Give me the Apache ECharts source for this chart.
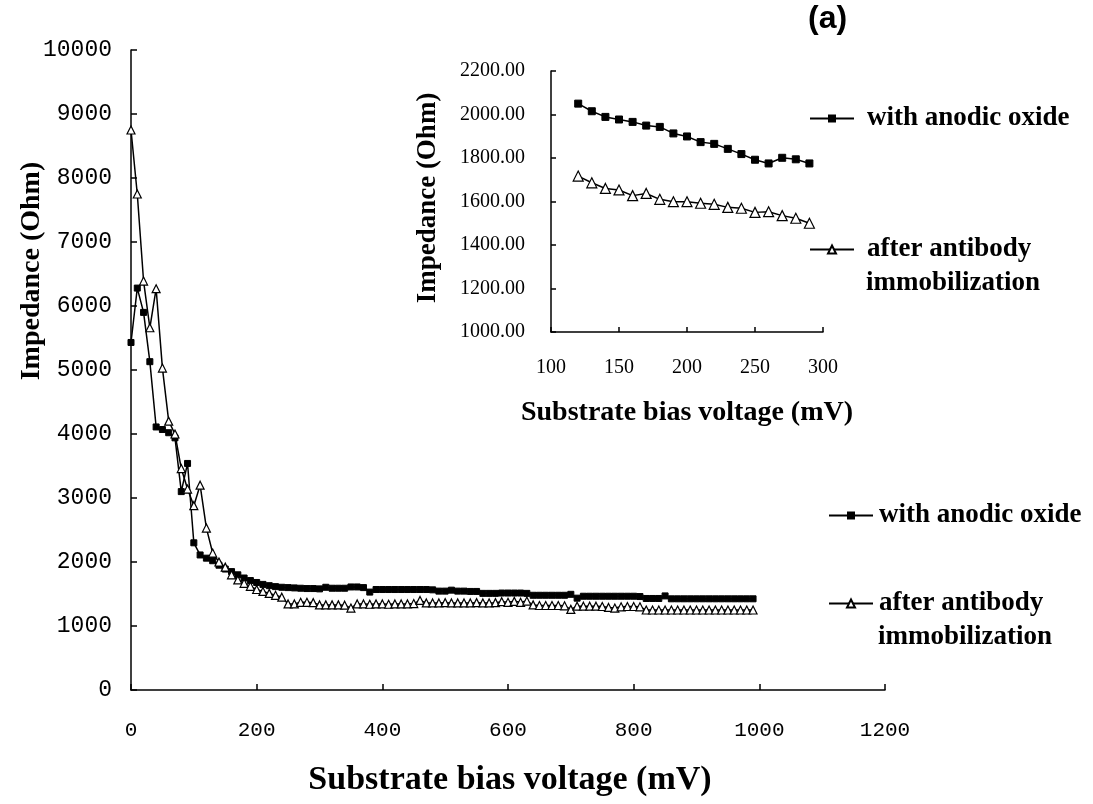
<!DOCTYPE html>
<html>
<head>
<meta charset="utf-8">
<script src="https://cdn.jsdelivr.net/npm/echarts@6/dist/echarts.min.js"></script>
<style>
  html, body { margin: 0; padding: 0; background: #fff; }
  #chart { width: 1093px; height: 804px; }
</style>
</head>
<body>
<div id="chart"></div>
<script>
// main plot: substrate bias voltage (mV)
const mainVoltage = [
  0, 10, 20, 30, 40, 50, 60, 70, 80, 90,
  100, 110, 120, 130, 140, 150, 160, 170, 180, 190,
  200, 210, 220, 230, 240, 250, 260, 270, 280, 290,
  300, 310, 320, 330, 340, 350, 360, 370, 380, 390,
  400, 410, 420, 430, 440, 450, 460, 470, 480, 490,
  500, 510, 520, 530, 540, 550, 560, 570, 580, 590,
  600, 610, 620, 630, 640, 650, 660, 670, 680, 690,
  700, 710, 720, 730, 740, 750, 760, 770, 780, 790,
  800, 810, 820, 830, 840, 850, 860, 870, 880, 890,
  900, 910, 920, 930, 940, 950, 960, 970, 980, 990
];
const mainAnodic = [
  5430, 6280, 5900, 5130, 4110, 4070, 4020, 3940, 3100, 3540,
  2300, 2110, 2060, 2020, 1950, 1890, 1850, 1800, 1750, 1710,
  1680, 1650, 1630, 1615, 1605, 1600, 1595, 1590, 1585, 1585,
  1580, 1605, 1590, 1590, 1590, 1610, 1610, 1600, 1530, 1570,
  1570, 1570, 1570, 1570, 1570, 1570, 1570, 1570, 1565, 1545,
  1545, 1560, 1545, 1545, 1540, 1540, 1510, 1510, 1510, 1515,
  1515, 1515, 1515, 1510, 1480, 1480, 1480, 1480, 1480, 1480,
  1495, 1435, 1465, 1465, 1465, 1465, 1465, 1465, 1465, 1465,
  1465, 1460, 1430, 1430, 1430, 1470, 1425, 1425, 1425, 1425,
  1425, 1425, 1425, 1425, 1425, 1425, 1425, 1425, 1425, 1425
];
const mainAntibody = [
  8750, 7750, 6390, 5660, 6270, 5030, 4200, 4000, 3460, 3140,
  2880, 3200, 2530, 2140, 2000, 1920, 1800, 1720, 1667, 1620,
  1570, 1540, 1510, 1480, 1450, 1345, 1345, 1370, 1370, 1365,
  1330, 1330, 1330, 1330, 1325, 1280, 1345, 1345, 1340, 1345,
  1345, 1340, 1345, 1345, 1345, 1350, 1400, 1360, 1360, 1360,
  1365, 1360, 1360, 1360, 1360, 1365, 1360, 1360, 1365, 1380,
  1370, 1385, 1370, 1390, 1330, 1320, 1320, 1320, 1320, 1315,
  1260, 1310, 1310, 1310, 1310, 1305, 1290, 1280, 1300, 1305,
  1305, 1300, 1250, 1250, 1250, 1250, 1250, 1250, 1250, 1250,
  1250, 1250, 1250, 1250, 1250, 1250, 1250, 1250, 1250, 1250
];

// inset: 120 - 290 mV
const insetVoltage = [120, 130, 140, 150, 160, 170, 180, 190, 200, 210, 220, 230, 240, 250, 260, 270, 280, 290];
const insetAnodic = [2050, 2015, 1989, 1977, 1966, 1949, 1943, 1913, 1899, 1873, 1865, 1842, 1818, 1792, 1775, 1801, 1794, 1775];
const insetAntibody = [1717, 1686, 1660, 1653, 1627, 1637, 1610, 1599, 1599, 1592, 1587, 1573, 1569, 1550, 1553, 1535, 1523, 1500];

const nameA = 'with anodic oxide';
const nameB = 'after antibody';

const pairs = (xs, ys) => xs.map((x, i) => [x, ys[i]]);

const chart = echarts.init(document.getElementById('chart'));

const serifBold = {
  fontFamily: 'Liberation Serif',
  fontWeight: 'bold',
  color: '#000'
};

const axisBase = {
  axisLine: { lineStyle: { color: '#000', width: 1.5 } },
  axisTick: { inside: true, length: 6, lineStyle: { color: '#000', width: 1.5 } },
  splitLine: { show: false }
};

const legendItem = (left, top, name, pad) => ({
  orient: 'vertical',
  left: left,
  top: top,
  padding: 0,
  data: [name],
  itemWidth: 44,
  itemHeight: 10,
  selectedMode: false,
  textStyle: Object.assign({ fontSize: 27, padding: [0, 0, 0, pad] }, serifBold)
});

let option = {
  backgroundColor: '#fff',
  animation: false,
  grid: [
    { left: 131, top: 50, width: 754, height: 640, containLabel: false, outerBoundsMode: 'none' },
    { left: 551, top: 71, width: 272, height: 261, containLabel: false, outerBoundsMode: 'none' }
  ],
  xAxis: [
    Object.assign({}, axisBase, {
      type: 'value', gridIndex: 0, min: 0, max: 1200, interval: 200,
      axisLabel: { margin: 30, fontSize: 21, fontFamily: 'Liberation Mono', color: '#000', formatter: (v) => String(v) }
    }),
    Object.assign({}, axisBase, {
      type: 'value', gridIndex: 1, min: 100, max: 300, interval: 50,
      axisTick: { inside: true, length: 5, lineStyle: { color: '#000', width: 1.5 } },
      axisLabel: { margin: 26, fontSize: 20, fontFamily: 'Liberation Serif', color: '#000', formatter: (v) => String(v) }
    })
  ],
  yAxis: [
    Object.assign({}, axisBase, {
      type: 'value', gridIndex: 0, min: 0, max: 10000, interval: 1000,
      axisLabel: { margin: 19, fontSize: 23, fontFamily: 'Liberation Mono', color: '#000', formatter: (v) => String(v) }
    }),
    Object.assign({}, axisBase, {
      type: 'value', gridIndex: 1, min: 1000, max: 2200, interval: 200,
      axisTick: { inside: true, length: 5, lineStyle: { color: '#000', width: 1.5 } },
      axisLabel: {
        margin: 26, fontSize: 20, fontFamily: 'Liberation Serif', color: '#000',
        formatter: (v) => v.toFixed(2)
      }
    })
  ],
  legend: [
    legendItem(828, 502, nameA, 1),
    legendItem(828, 590, nameB, 1),
    legendItem(809, 105, nameA, 8),
    legendItem(809, 236, nameB, 8)
  ],
  graphic: [
    { type: 'text', left: 808, top: 3, style: { text: '(a)', font: 'bold 32px "Liberation Sans"', fill: '#000' } },
    { type: 'text', x: 32, y: 271, rotation: Math.PI / 2,
      style: { text: 'Impedance (Ohm)', font: 'bold 28px "Liberation Serif"', fill: '#000', align: 'center', verticalAlign: 'middle' } },
    { type: 'text', x: 510, y: 780,
      style: { text: 'Substrate bias voltage (mV)', font: 'bold 34px "Liberation Serif"', fill: '#000', align: 'center', verticalAlign: 'middle' } },
    { type: 'text', x: 428, y: 198, rotation: Math.PI / 2,
      style: { text: 'Impedance (Ohm)', font: 'bold 27px "Liberation Serif"', fill: '#000', align: 'center', verticalAlign: 'middle' } },
    { type: 'text', x: 687, y: 413,
      style: { text: 'Substrate bias voltage (mV)', font: 'bold 28px "Liberation Serif"', fill: '#000', align: 'center', verticalAlign: 'middle' } },
    // second line of the two-line legend entries
    { type: 'text', x: 878, y: 637,
      style: { text: 'immobilization', font: 'bold 27px "Liberation Serif"', fill: '#000', verticalAlign: 'middle' } },
    { type: 'text', x: 866, y: 283,
      style: { text: 'immobilization', font: 'bold 27px "Liberation Serif"', fill: '#000', verticalAlign: 'middle' } }
  ],
  series: [
    {
      name: nameA, type: 'line', xAxisIndex: 0, yAxisIndex: 0,
      data: pairs(mainVoltage, mainAnodic),
      symbol: 'rect', symbolSize: 6,
      lineStyle: { color: '#000', width: 1.5 },
      itemStyle: { color: '#000', borderColor: '#000' }
    },
    {
      name: nameB, type: 'line', xAxisIndex: 0, yAxisIndex: 0,
      data: pairs(mainVoltage, mainAntibody),
      symbol: 'triangle', symbolSize: 8,
      lineStyle: { color: '#000', width: 1.5 },
      itemStyle: { color: '#fff', borderColor: '#000', borderWidth: 1.2 }
    },
    {
      name: nameA, type: 'line', xAxisIndex: 1, yAxisIndex: 1,
      data: pairs(insetVoltage, insetAnodic),
      symbol: 'rect', symbolSize: 7,
      lineStyle: { color: '#000', width: 1.5 },
      itemStyle: { color: '#000', borderColor: '#000' }
    },
    {
      name: nameB, type: 'line', xAxisIndex: 1, yAxisIndex: 1,
      data: pairs(insetVoltage, insetAntibody),
      symbol: 'triangle', symbolSize: 10,
      lineStyle: { color: '#000', width: 1.5 },
      itemStyle: { color: '#fff', borderColor: '#000', borderWidth: 1.2 }
    }
  ]
};

chart.setOption(option);
</script>
</body>
</html>
